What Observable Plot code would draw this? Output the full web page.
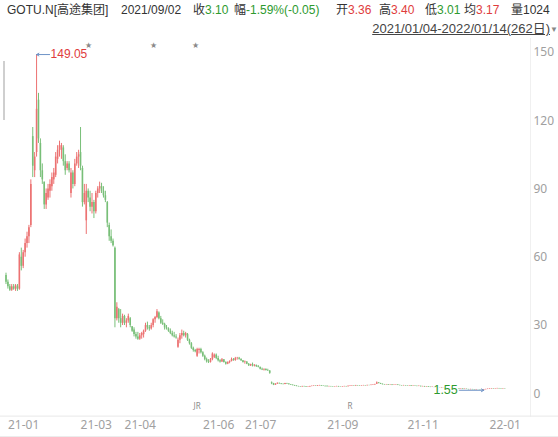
<!DOCTYPE html>
<html><head><meta charset="utf-8">
<script src="https://cdn.jsdelivr.net/npm/d3@7"></script>
<script src="https://cdn.jsdelivr.net/npm/@observablehq/plot@0.6"></script>
<style>
html,body{margin:0;padding:0;background:#fff;width:558px;height:437px;overflow:hidden;font-family:"Liberation Sans","Noto Sans CJK SC",sans-serif;}
#page{position:relative;width:558px;height:437px;overflow:hidden;}
#header{position:relative;height:38px;font-size:12px;color:#333;white-space:nowrap;overflow:hidden;}
#header span.f{position:absolute;top:2px;line-height:17px;}
.up{color:#e03c3c}.dn{color:#2e9a2e}
#range{position:absolute;top:20px;right:8px;line-height:17px;font-size:13px;text-decoration:underline;color:#444;}
#tri{position:absolute;top:21px;left:550px;font-size:8px;color:#888;line-height:17px;}
#scroll{position:absolute;left:2.5px;top:61px;width:2px;height:59px;background:#cfcfcf}
#bottomLine{position:absolute;left:0;top:436px;width:558px;height:1px;background:#ececec}
#chart svg{display:block}
</style></head>
<body><div id="page">
<div id="header"></div>
<div id="chart"></div>
<div id="scroll"></div>
<div id="bottomLine"></div>
</div>
<script>
// ---- header quote fields (label, value, class, left px) ----
const quoteLabels = ["GOTU.N[高途集团]", "2021/09/02", "收", "幅", "开", "高", "低", "均", "量1024"];
const quoteValues = ["", "", "3.10", "-1.59%(-0.05)", "3.36", "3.40", "3.01", "3.17", ""];
const quoteClass  = ["", "", "dn", "dn", "up", "up", "dn", "up", ""];
const quoteLeft   = [7, 121, 193, 234, 336, 379, 425, 464, 511];
const rangeText = "2021/01/04-2022/01/14(262日)";

// ---- daily candles [open, high, low, close] by month ----
const jan21 = [[52,53,48,49],[49,50,46,47],[47,48,45,45.5],[45.5,48,45,47],[47,48,45.5,46],[46,48,45,47.5],[47,48,45,46],[46,62,45.5,61],[60,64,54,56],[56,63,55,62],[62,68,60,66],[66,71,64,69],[69,74,66,73],[74,94,73,92],[113,117,95,100],[98,106,95,104],[106,149.05,104,125],[129,132,110,112],[110,112,95,98]];
const feb21 = [[98,101,92,94],[93,93,81,83],[83,90,81,88],[86,92,85,90],[89,94,86,92],[91,97,89,95],[94,99,92,97],[96,106,95,104],[103,109,101,107],[107,111,104,109],[107,110,103,109],[108,109,100,102],[102,105,96,98],[99,102,98,101],[101,102,97,98],[88,99,86,97],[97,98,90,92],[92,103,91,101],[101,106,100,104]];
const mar21 = [[104,107,99,105],[106,117,98,100],[99,100,82,84],[84,92,83,88],[76,92,70,89],[89,90,84,86],[86,89,80,82],[82,88,79,84],[84,85,77,80],[80,89,79,88],[88,91,86,90],[90,93,88,91],[91,92.5,88,89],[89,91,86,87],[87,89,84,85],[84,84.5,73,75],[74,75,67,69],[69,72,66,67],[67,68,64.5,65],[64,64.5,29,33],[33,40,32,38],[37,37.5,31,33],[33,37,29,31]];
const apr21 = [[31,35,30,34],[34,34.5,30,31],[31,33,29,32],[32,35,31,34],[33,33.5,29,30],[29.5,29.5,27,27.5],[28,29,25,26],[26,27,24,25],[25,27,23.5,24],[24,26.5,23.5,25.5],[25.5,27,24,26.5],[26,28,24.5,27.5],[27.5,31,27,30],[30,31.5,28,29],[29,30,27.5,28.5],[28.5,31,28,30],[30,33,29,32.5],[32.5,34,31,33.5],[33.5,37,33,36],[35.5,36,32.5,33],[33,34,30.5,31]];
const may21 = [[31,32.5,30,30.5],[30.5,31,28,29],[29,30,28,28.5],[28.5,29,27,27.5],[27.5,28.5,26,26.5],[26.5,27.5,25,25.5],[25.5,27,24.5,25],[25,26,24,24.5],[20.5,24.5,20,23.5],[23.5,26.5,22,25.5],[25.5,28,24,26.5],[26.5,27.5,25,25.5],[25.5,27,24.5,26.5],[26,26.5,23,23.5],[23.5,24,21.4,22],[22,22.5,19.5,20],[20,20.5,18.3,19],[19,19.5,18,18.5],[16.5,20,16,19.5],[19,20,17.5,19.5]];
const jun21 = [[19.5,20,17.5,18],[18,18.5,16,16.5],[16.5,17,14.5,15],[15,15.7,13.5,14],[14,15,13.3,13.8],[13.8,15.5,13.5,15],[15,18,14.5,17.5],[16,17.5,15.5,17],[17,17.5,15,15.5],[15.5,16.5,14,14.5],[14.5,15,13.5,14],[14,15.5,13.8,15],[15,15,13.5,13.8],[13.8,14,12.6,13],[13,14,12.8,13.8],[13.8,14.5,13.2,14.2],[14.2,15.7,14,15],[15,15.5,14.3,14.6],[14.6,16,14.3,15.5],[15.5,16,14.8,15.6],[15.6,16,14.8,15.2],[15.2,15.3,14.2,14.5]];
const jul21 = [[14.5,14.6,13.5,13.8],[13.7,14.4,13,14],[14,14.1,12.8,13],[13,13.3,12,12.3],[12.3,13,12,12.8],[12.8,13.5,11.8,12.2],[12.2,12.8,11.8,12.5],[12.5,12.6,11.6,11.9],[11.9,12.4,11.4,11.6],[11.6,11.8,10.5,10.8],[10.8,11.3,10.2,10.5],[10.5,11,10,10.7],[10.7,11,10,10.2],[10.2,10.8,9.8,10.1],[10,10.2,8.6,9],[4.8,5.2,4,4.4],[4.4,4.6,3.6,3.8],[3.8,4.4,3.7,4.3],[4.3,4.8,4.1,4.6],[4.6,4.7,4.2,4.4],[4.4,4.5,4.0,4.2]];
const aug21 = [[4.2,4.3,3.9,4.1],[4.1,4.6,4.0,4.5],[4.5,4.6,4.2,4.3],[4.3,4.4,3.9,4.0],[4.0,4.1,3.7,3.8],[3.8,3.9,3.5,3.6],[3.6,3.7,3.3,3.4],[3.4,3.5,3.1,3.2],[3.2,3.3,3.0,3.1],[3.1,3.2,2.9,3.0],[3.0,3.3,2.95,3.2],[3.2,3.3,3.0,3.1],[3.1,3.15,2.85,2.9],[2.9,3.1,2.85,3.0],[3.0,3.3,2.95,3.2],[3.2,3.4,3.1,3.3],[3.3,3.5,3.2,3.4],[3.4,3.45,3.2,3.3],[3.3,3.6,3.25,3.5],[3.5,3.7,3.4,3.6],[3.6,3.65,3.3,3.4],[3.4,3.45,3.2,3.3]];
const sep21 = [[3.3,3.35,3.1,3.15],[3.36,3.40,3.01,3.10],[3.1,3.3,3.05,3.2],[3.2,3.25,3.0,3.1],[3.1,3.15,2.9,3.0],[3.0,3.2,2.95,3.1],[3.1,3.3,3.05,3.2],[3.2,3.25,2.95,3.0],[3.0,3.05,2.85,2.95],[2.95,3.15,2.9,3.1],[3.1,3.3,3.05,3.2],[3.2,3.25,3.0,3.1],[3.1,3.4,3.05,3.3],[3.3,3.5,3.2,3.4],[3.4,3.6,3.3,3.5],[3.5,3.55,3.3,3.4],[3.4,3.7,3.35,3.6],[3.6,3.65,3.4,3.5],[3.5,3.55,3.3,3.4],[3.4,3.6,3.35,3.5],[3.5,3.7,3.45,3.6]];
const oct21 = [[3.6,3.65,3.4,3.5],[3.5,3.8,3.45,3.7],[3.7,3.75,3.5,3.6],[3.6,3.9,3.55,3.8],[3.8,4.0,3.7,3.9],[3.9,4.2,3.85,4.1],[4.2,5.2,4.1,4.8],[4.8,4.9,4.4,4.5],[4.5,4.6,4.1,4.2],[4.2,4.3,3.9,4.0],[4.0,4.1,3.8,3.9],[3.9,4.1,3.85,4.0],[4.0,4.05,3.7,3.8],[3.8,4.0,3.75,3.9],[3.9,3.95,3.6,3.7],[3.7,3.9,3.65,3.8],[3.8,4.0,3.75,3.9],[3.9,3.95,3.6,3.7],[3.7,3.75,3.5,3.6],[3.6,3.65,3.4,3.5],[3.5,3.7,3.45,3.6]];
const nov21 = [[3.6,3.65,3.4,3.5],[3.5,3.55,3.3,3.4],[3.4,3.6,3.35,3.5],[3.5,3.55,3.2,3.3],[3.3,3.5,3.25,3.4],[3.4,3.45,3.2,3.3],[3.3,3.35,3.1,3.2],[3.2,3.4,3.15,3.3],[3.3,3.35,3.0,3.1],[3.1,3.3,3.05,3.2],[3.2,3.25,2.9,3.0],[3.0,3.2,2.95,3.1],[3.1,3.15,2.8,2.9],[2.9,2.95,2.7,2.8],[2.8,3.0,2.75,2.9],[2.9,2.95,2.6,2.7],[2.7,2.9,2.65,2.8],[2.8,2.85,2.5,2.6],[2.6,2.65,2.4,2.5],[2.5,2.7,2.45,2.6],[2.6,2.65,2.3,2.4]];
const dec21 = [[2.4,2.6,2.35,2.5],[2.5,2.55,2.25,2.3],[2.3,2.5,2.25,2.4],[2.4,2.45,2.15,2.2],[2.2,2.4,2.15,2.3],[2.3,2.35,2.05,2.1],[2.1,2.3,2.05,2.2],[2.2,2.25,1.95,2.0],[2.0,2.2,1.95,2.1],[2.1,2.15,1.85,1.9],[1.9,2.1,1.85,2.0],[2.0,2.05,1.85,1.9],[1.9,1.95,1.75,1.8],[1.8,2.0,1.75,1.9],[1.9,1.95,1.75,1.8],[1.8,1.85,1.65,1.7],[1.7,1.9,1.65,1.8],[1.8,1.85,1.7,1.75],[1.75,1.8,1.65,1.7],[1.7,1.75,1.6,1.65],[1.65,1.9,1.55,1.8],[1.8,2.0,1.75,1.9]];
const jan22 = [[1.9,2.1,1.85,2.0],[2.0,2.2,1.95,2.1],[2.1,2.3,2.05,2.2],[2.2,2.25,2.0,2.1],[2.1,2.3,2.05,2.2],[2.2,2.4,2.15,2.3],[2.3,2.35,2.1,2.2],[2.2,2.25,2.0,2.1],[2.1,2.3,2.05,2.2],[2.2,2.25,2.1,2.15]];

const monthNames = ["21-01","21-02","21-03","21-04","21-05","21-06","21-07","21-08","21-09","21-10","21-11","21-12","22-01"];
const shownMonths = ["21-01","21-03","21-04","21-06","21-07","21-09","21-11","22-01"];
const yTicks = [0, 30, 60, 90, 120, 150];
const starIdx = [43, 77, 99];
const eventIdx = [100, 180];
const eventText = ["JR", "R"];

// ---- header ----
const header = document.getElementById("header");
quoteLabels.forEach((lab, k) => {
  const s = document.createElement("span");
  s.className = "f";
  s.style.left = quoteLeft[k] + "px";
  s.textContent = lab;
  if (quoteValues[k]) {
    const v = document.createElement("span");
    v.className = quoteClass[k];
    v.textContent = quoteValues[k];
    s.appendChild(v);
  }
  header.appendChild(s);
});
const r = document.createElement("span"); r.id = "range"; r.textContent = rangeText; header.appendChild(r);
const t = document.createElement("span"); t.id = "tri"; t.textContent = "▼"; header.appendChild(t);

// ---- data table ----
const months = [jan21, feb21, mar21, apr21, may21, jun21, jul21, aug21, sep21, oct21, nov21, dec21, jan22];
const candles = months.flat().map(([open, high, low, close], i) => ({i, open, high, low, close}));
const monthStart = [];
months.reduce((acc, m) => { monthStart.push(acc); return acc + m.length; }, 0);
const tickIdx = shownMonths.map(m => monthStart[monthNames.indexOf(m)]);
const tickLabel = new Map(tickIdx.map((ix, k) => [ix, shownMonths[k]]));

const up = candles.filter(d => d.close >= d.open);
const dn = candles.filter(d => d.close < d.open);
const RED = "#ec7272", GREEN = "#78bf78";
const hi = d3.greatest(candles, d => d.high);
const lo = d3.least(candles, d => d.low);
const xr = [5.5, 504.3];
const pxPerIdx = (xr[1] - xr[0]) / (candles.length - 1);

const chart = Plot.plot({
  width: 558, height: 399,
  marginTop: 0, marginLeft: 0, marginRight: 28, marginBottom: 21.4,
  x: {type: "linear", domain: [0, candles.length - 1], range: xr},
  y: {domain: [0, 150], range: [355.3, 13.9]},
  style: {fontFamily: "'Noto Sans', sans-serif", fontSize: "12px", background: "#fff"},
  marks: [
    Plot.frame({anchor: "right", stroke: "#f0f0f0"}),
    Plot.frame({anchor: "bottom", stroke: "#e8e8e8", insetRight: -28}),
    Plot.axisY({anchor: "right", ticks: yTicks, tickSize: 0, tickPadding: 3, textAnchor: "start", color: "#a0a0a0", fontSize: 12, label: null}),
    Plot.axisX({anchor: "bottom", ticks: tickIdx, tickFormat: d => tickLabel.get(d), tickSize: 0, tickPadding: 4, textAnchor: "start", dx: 2, color: "#a0a0a0", fontSize: 12, label: null}),
    Plot.ruleX(up, {x: "i", y1: "low", y2: "high", stroke: RED, strokeWidth: 1}),
    Plot.ruleX(up, {x: "i", y1: "open", y2: "close", stroke: RED, strokeWidth: 1.6}),
    Plot.ruleX(dn, {x: "i", y1: "low", y2: "high", stroke: GREEN, strokeWidth: 1}),
    Plot.ruleX(dn, {x: "i", y1: "open", y2: "close", stroke: GREEN, strokeWidth: 1.6}),
    Plot.text(starIdx, {x: d => d, text: () => "★", frameAnchor: "top", dy: 3.5, fill: "#8a8a8a", fontSize: 8}),
    Plot.text(eventIdx, {x: d => d, text: (d, k) => eventText[k], frameAnchor: "bottom", dy: -7.6, fill: "#8a8a8a", fontSize: 8}),
    Plot.arrow([hi], {x1: d => d.i + 13 / pxPerIdx, x2: "i", y1: "high", y2: "high", stroke: "#6f93c7", strokeWidth: 1, headLength: 4}),
    Plot.text([hi], {x: "i", y: "high", text: d => d.high.toFixed(2), dx: 14, textAnchor: "start", fill: "#e03c3c", fontSize: 12, fontFamily: "Liberation Sans"}),
    Plot.arrow([lo], {x1: d => d.i - 25 / pxPerIdx, x2: "i", y1: "low", y2: "low", stroke: "#6f93c7", strokeWidth: 1, headLength: 4}),
    Plot.text([lo], {x: "i", y: "low", text: d => d.low.toFixed(2), dx: -26, textAnchor: "end", fill: "#2e9a2e", fontSize: 12.5, fontFamily: "Liberation Sans", stroke: "white", strokeWidth: 3, paintOrder: "stroke"})
  ]
});
document.getElementById("chart").appendChild(chart);
</script>
</body></html>
